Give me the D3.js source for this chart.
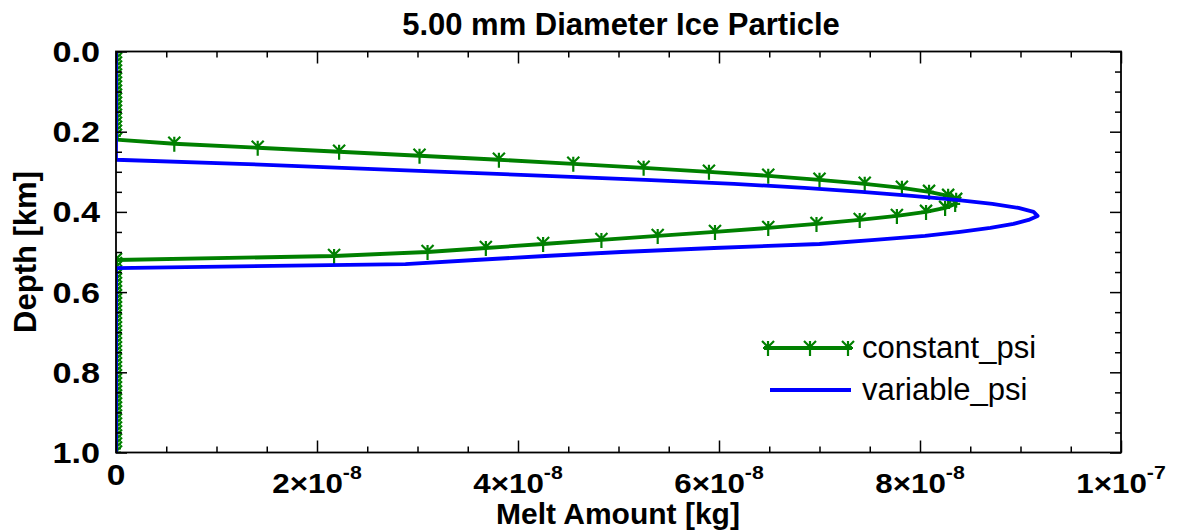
<!DOCTYPE html>
<html>
<head>
<meta charset="utf-8">
<script src="https://cdn.jsdelivr.net/npm/d3@7"></script>
<style>
  html, body { margin: 0; padding: 0; background: #ffffff; }
  svg { display: block; font-family: "Liberation Sans", Arial, Helvetica, sans-serif; }
</style>
</head>
<body>
<svg id="chart" width="1178" height="531"></svg>
<script>
// Depth grid of the melt profile (km)
const depthKm = [
  0.00, 0.01, 0.02, 0.03, 0.04, 0.05, 0.06, 0.07, 0.08, 0.09,
  0.10, 0.11, 0.12, 0.13, 0.14, 0.15, 0.16, 0.17, 0.18, 0.19,
  0.20, 0.21, 0.22, 0.23, 0.24, 0.25, 0.26, 0.27, 0.28, 0.29,
  0.30, 0.31, 0.32, 0.33, 0.34, 0.35, 0.36, 0.37, 0.38, 0.39,
  0.40, 0.41, 0.42, 0.43, 0.44, 0.45, 0.46, 0.47, 0.48, 0.49,
  0.50, 0.51, 0.52, 0.53, 0.54, 0.55, 0.56, 0.57, 0.58, 0.59,
  0.60, 0.61, 0.62, 0.63, 0.64, 0.65, 0.66, 0.67, 0.68, 0.69,
  0.70, 0.71, 0.72, 0.73, 0.74, 0.75, 0.76, 0.77, 0.78, 0.79,
  0.80, 0.81, 0.82, 0.83, 0.84, 0.85, 0.86, 0.87, 0.88, 0.89,
  0.90, 0.91, 0.92, 0.93, 0.94, 0.95, 0.96, 0.97, 0.98, 0.99,
  1.00
];

// Melt amount, constant_psi run (units of 1e-8 kg)
const meltConstantPsi = [
  0, 0, 0, 0, 0, 0, 0, 0, 0, 0,
  0, 0, 0, 0, 0, 0, 0, 0, 0, 0,
  0, 0, 0, 0.58, 1.41, 2.22, 3.02, 3.81, 4.55, 5.25,
  5.90, 6.49, 7.00, 7.45, 7.82, 8.09, 8.28, 8.36, 8.35, 8.25,
  8.06, 7.77, 7.40, 6.97, 6.49, 5.96, 5.39, 4.83, 4.25, 3.68,
  3.10, 2.17, 0, 0, 0, 0, 0, 0, 0, 0,
  0, 0, 0, 0, 0, 0, 0, 0, 0, 0,
  0, 0, 0, 0, 0, 0, 0, 0, 0, 0,
  0, 0, 0, 0, 0, 0, 0, 0, 0, 0,
  0, 0, 0, 0, 0, 0, 0, 0, 0, 0,
  0
];

// Melt amount, variable_psi run (units of 1e-8 kg)
const meltVariablePsi = [
  0, 0, 0, 0, 0, 0, 0, 0, 0, 0,
  0, 0, 0, 0, 0, 0, 0, 0, 0, 0,
  0, 0, 0, 0, 0, 0, 0, 0, 1.23, 2.25,
  3.27, 4.28, 5.27, 6.15, 6.85, 7.42, 7.92, 8.36, 8.72, 8.98,
  9.13, 9.17, 9.08, 8.93, 8.70, 8.40, 8.05, 7.55, 7.00, 5.95,
  5.03, 4.27, 3.57, 2.88, 0, 0, 0, 0, 0, 0,
  0, 0, 0, 0, 0, 0, 0, 0, 0, 0,
  0, 0, 0, 0, 0, 0, 0, 0, 0, 0,
  0, 0, 0, 0, 0, 0, 0, 0, 0, 0,
  0, 0, 0, 0, 0, 0, 0, 0, 0, 0,
  0
];
const meltUnit = 1e-8;

const seriesNames = ["constant_psi", "variable_psi"];

// Axis ticks
const xMajorTicks = [0, 2e-8, 4e-8, 6e-8, 8e-8, 1e-7];
const xTickMantissa = ["0", "2\u00D710", "4\u00D710", "6\u00D710", "8\u00D710", "1\u00D710"];
const xTickExponent = ["", "-8", "-8", "-8", "-8", "-7"];
const yMajorTicks = [0, 0.2, 0.4, 0.6, 0.8, 1.0];
const yTickLabels = ["0.0", "0.2", "0.4", "0.6", "0.8", "1.0"];

const titleText = "5.00 mm Diameter Ice Particle";
const xTitle = "Melt Amount [kg]";
const yTitle = "Depth [km]";

// ---- layout ----
const plot = { left: 116, right: 1121, top: 51.5, bottom: 452.5 };
const svg = d3.select("#chart");

const x = d3.scaleLinear().domain([0, 1e-7]).range([plot.left, plot.right]);
const y = d3.scaleLinear().domain([0, 1]).range([plot.top, plot.bottom]);

const xMinor = d3.range(0, 1e-7 + 1e-12, 0.5e-8).filter(v => !xMajorTicks.some(m => Math.abs(m - v) < 1e-12));
const yMinor = d3.range(0, 1.0001, 0.05).filter(v => !yMajorTicks.some(m => Math.abs(m - v) < 1e-9));

svg.append("defs").append("clipPath").attr("id", "plot-clip")
  .append("rect")
  .attr("x", plot.left).attr("y", plot.top)
  .attr("width", plot.right - plot.left).attr("height", plot.bottom - plot.top);

// ---- data curves ----
const profile = vals => vals.map((v, i) => ({ depth: depthKm[i], melt: v * meltUnit }));
const constantPts = profile(meltConstantPsi);
const variablePts = profile(meltVariablePsi);

const line = d3.line().x(d => x(d.melt)).y(d => y(d.depth));

const curves = svg.append("g").attr("clip-path", "url(#plot-clip)");

// IDL-style asterisk marker
const starPath = "M0,-7V8M-6,-7L0,-1L6,-7M-5,0H5";

curves.append("path")
  .attr("d", line(constantPts))
  .attr("fill", "none").attr("stroke", "#008000")
  .attr("stroke-width", 3.8).attr("stroke-linejoin", "round");

curves.append("g").selectAll("path")
  .data(constantPts)
  .join("path")
  .attr("transform", d => `translate(${x(d.melt)},${y(d.depth)})`)
  .attr("d", starPath)
  .attr("fill", "none").attr("stroke", "#008000").attr("stroke-width", 2.2);

curves.append("path")
  .attr("d", line(variablePts))
  .attr("fill", "none").attr("stroke", "#0000ff")
  .attr("stroke-width", 3.8).attr("stroke-linejoin", "round");

// ---- axes (inward ticks on all four sides) ----
const axisColor = "#000";
function styleAxis(g) {
  g.select(".domain").remove();
  g.selectAll("line").attr("stroke", axisColor).attr("stroke-width", 1.5);
  g.selectAll("text").remove();
}

svg.append("g").attr("transform", `translate(0,${plot.bottom})`)
  .call(d3.axisBottom(x).tickValues(xMajorTicks).tickSize(-12)).call(styleAxis);
svg.append("g").attr("transform", `translate(0,${plot.bottom})`)
  .call(d3.axisBottom(x).tickValues(xMinor).tickSize(-6)).call(styleAxis);
svg.append("g").attr("transform", `translate(0,${plot.top})`)
  .call(d3.axisTop(x).tickValues(xMajorTicks).tickSize(-12)).call(styleAxis);
svg.append("g").attr("transform", `translate(0,${plot.top})`)
  .call(d3.axisTop(x).tickValues(xMinor).tickSize(-6)).call(styleAxis);

svg.append("g").attr("transform", `translate(${plot.left},0)`)
  .call(d3.axisLeft(y).tickValues(yMajorTicks).tickSize(-11)).call(styleAxis);
svg.append("g").attr("transform", `translate(${plot.left},0)`)
  .call(d3.axisLeft(y).tickValues(yMinor).tickSize(-6)).call(styleAxis);
svg.append("g").attr("transform", `translate(${plot.right},0)`)
  .call(d3.axisRight(y).tickValues(yMajorTicks).tickSize(-11)).call(styleAxis);
svg.append("g").attr("transform", `translate(${plot.right},0)`)
  .call(d3.axisRight(y).tickValues(yMinor).tickSize(-6)).call(styleAxis);

svg.append("rect")
  .attr("x", plot.left).attr("y", plot.top)
  .attr("width", plot.right - plot.left).attr("height", plot.bottom - plot.top)
  .attr("fill", "none").attr("stroke", axisColor).attr("stroke-width", 1.8);

// ---- tick labels (slightly widened, like the Helvetica plot font) ----
svg.append("g").selectAll("text")
  .data(yMajorTicks)
  .join("text")
  .attr("transform", d => `translate(100,${y(d)}) scale(1.18,1)`)
  .attr("dy", "0.36em")
  .attr("text-anchor", "end")
  .attr("font-size", 29).attr("font-weight", "bold")
  .text((d, i) => yTickLabels[i]);

const xLab = svg.append("g").selectAll("text")
  .data(xMajorTicks)
  .join("text")
  .attr("transform", (d, i) => `translate(${x(d)},${xTickExponent[i] ? 493 : 485}) scale(1.12,1)`)
  .attr("text-anchor", "middle")
  .attr("font-size", (d, i) => xTickExponent[i] ? 28 : 30)
  .attr("font-weight", "bold");
xLab.append("tspan").text((d, i) => xTickMantissa[i]);
xLab.append("tspan")
  .attr("dy", -14).attr("font-size", 19)
  .text((d, i) => xTickExponent[i]);

// ---- titles ----
svg.append("text")
  .attr("x", 621).attr("y", 35)
  .attr("text-anchor", "middle")
  .attr("font-size", 31).attr("font-weight", "bold")
  .text(titleText);

svg.append("text")
  .attr("x", 618).attr("y", 524)
  .attr("text-anchor", "middle")
  .attr("font-size", 30).attr("font-weight", "bold")
  .text(xTitle);

svg.append("text")
  .attr("transform", `translate(36,${(plot.top + plot.bottom) / 2}) rotate(-90)`)
  .attr("text-anchor", "middle")
  .attr("font-size", 31).attr("font-weight", "bold")
  .text(yTitle);

// ---- legend ----
const legend = svg.append("g");
const legendRows = [
  { name: seriesNames[0], color: "#008000", y: 348, x0: 764, x1: 852, markers: [768, 810, 848] },
  { name: seriesNames[1], color: "#0000ff", y: 390, x0: 770, x1: 851, markers: [] }
];
legendRows.forEach(r => {
  legend.append("line")
    .attr("x1", r.x0).attr("x2", r.x1).attr("y1", r.y).attr("y2", r.y)
    .attr("stroke", r.color).attr("stroke-width", 3.8);
  r.markers.forEach(mx => {
    legend.append("path")
      .attr("transform", `translate(${mx},${r.y})`)
      .attr("d", starPath)
      .attr("fill", "none").attr("stroke", r.color).attr("stroke-width", 2.2);
  });
  legend.append("text")
    .attr("x", 862).attr("y", r.y + 10)
    .attr("font-size", 31)
    .text(r.name);
});
</script>
</body>
</html>
